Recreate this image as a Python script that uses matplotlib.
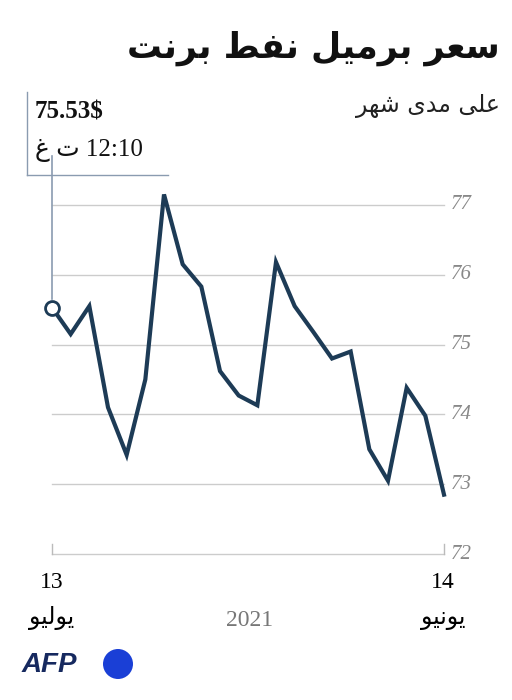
import matplotlib.pyplot as plt
from matplotlib.patches import Circle

# prices, left (13 July) to right (14 June)
prices = [75.53, 75.15, 75.55, 74.10, 73.42, 74.50, 77.15, 76.15, 75.83, 74.62, 74.27,
          74.13, 76.18, 75.55, 75.18, 74.80, 74.90, 73.50, 73.05, 74.38, 73.98, 72.85]
yticks = [72, 73, 74, 75, 76, 77]

# minimal arabic shaping (presentation forms B): iso, fin, ini, med
FORMS = {
    'ا': (0xFE8D, 0xFE8E, None, None), 'ب': (0xFE8F, 0xFE90, 0xFE91, 0xFE92),
    'ت': (0xFE95, 0xFE96, 0xFE97, 0xFE98), 'د': (0xFEA9, 0xFEAA, None, None),
    'ر': (0xFEAD, 0xFEAE, None, None), 'س': (0xFEB1, 0xFEB2, 0xFEB3, 0xFEB4),
    'ش': (0xFEB5, 0xFEB6, 0xFEB7, 0xFEB8), 'ط': (0xFEC1, 0xFEC2, 0xFEC3, 0xFEC4),
    'ع': (0xFEC9, 0xFECA, 0xFECB, 0xFECC), 'غ': (0xFECD, 0xFECE, 0xFECF, 0xFED0),
    'ف': (0xFED1, 0xFED2, 0xFED3, 0xFED4), 'ل': (0xFEDD, 0xFEDE, 0xFEDF, 0xFEE0),
    'م': (0xFEE1, 0xFEE2, 0xFEE3, 0xFEE4), 'ن': (0xFEE5, 0xFEE6, 0xFEE7, 0xFEE8),
    'ه': (0xFEE9, 0xFEEA, 0xFEEB, 0xFEEC), 'و': (0xFEED, 0xFEEE, None, None),
    'ى': (0xFEEF, 0xFEF0, None, None), 'ي': (0xFEF1, 0xFEF2, 0xFEF3, 0xFEF4),
}


def shape(text):
    out = []
    for i, c in enumerate(text):
        if c not in FORMS:
            out.append(c)
            continue
        p = text[i - 1] if i > 0 else ''
        n = text[i + 1] if i + 1 < len(text) else ''
        jp = p in FORMS and FORMS[p][2] is not None
        jn = n in FORMS and FORMS[c][2] is not None
        f = FORMS[c]
        code = f[3] if (jp and jn) else f[1] if jp else f[2] if jn else f[0]
        out.append(chr(code))
    return ''.join(out)[::-1]


navy = '#1d3b56'
gray = '#999999'
fig = plt.figure(figsize=(5.12, 7.0), dpi=100)

ax = fig.add_axes([52 / 512, 1 - 554 / 700, (444 - 52) / 512, (554 - 170) / 700])
x = list(range(len(prices)))
last = len(prices) - 1
for v in yticks:
    ax.plot([0, last], [v, v], color='#cccccc', lw=1, zorder=1, clip_on=False)
    ax.text(last + 0.35, v, str(v), ha='left', va='center', fontsize=15,
            family='Liberation Serif', style='italic', color='#888888')
ax.plot([last, last], [72, 72.15], color='#bbbbbb', lw=1, clip_on=False)
ax.plot([0, 0], [72, 72.15], color='#bbbbbb', lw=1, clip_on=False)
ax.plot(x, prices, color=navy, lw=3, solid_joinstyle='miter', zorder=3, clip_on=False)
ax.plot(x[0], prices[0], 'o', ms=10, mfc='white', mec=navy, mew=2, zorder=4, clip_on=False)
ax.set_xlim(0, last)
ax.set_ylim(72, 77.5)
ax.axis('off')

# callout
ax.plot([0, 0], [prices[0] + 0.12, 77.7], color='#8a9bb0', lw=1.2, clip_on=False)
fig.add_artist(plt.Line2D([27 / 512, 168 / 512], [1 - 175 / 700] * 2, color='#8a9bb0', lw=1))
fig.add_artist(plt.Line2D([27 / 512] * 2, [1 - 175 / 700, 1 - 92 / 700], color='#8a9bb0', lw=1))
fig.text(35 / 512, 1 - 112 / 700, '75.53$', fontsize=18, weight='bold',
         family='Liberation Serif', color='#111111', va='center')
fig.text(35 / 512, 1 - 150 / 700, shape('غ') + ' ' + shape('ت') + ' 12:10', fontsize=18,
         family=['Liberation Serif', 'DejaVu Sans'], color='#111111', va='center')

# titles
fig.text(500 / 512, 1 - 48 / 700, shape('سعر برميل نفط برنت'), fontsize=25, weight='bold',
         ha='right', va='center', color='#111111')
fig.text(500 / 512, 1 - 106 / 700, shape('على مدى شهر'), fontsize=17,
         ha='right', va='center', color='#222222')

# x labels
fig.text(52 / 512, 1 - 582 / 700, '13', fontsize=17, family='Liberation Serif', ha='center', va='center')
fig.text(443 / 512, 1 - 582 / 700, '14', fontsize=17, family='Liberation Serif', ha='center', va='center')
fig.text(52 / 512, 1 - 618 / 700, shape('يوليو'), fontsize=17, ha='center', va='center')
fig.text(443 / 512, 1 - 618 / 700, shape('يونيو'), fontsize=17, ha='center', va='center')
fig.text(250 / 512, 1 - 620 / 700, '2021', fontsize=17, family='Liberation Serif',
         ha='center', va='center', color='#777777')

# AFP logo
fig.text(22 / 512, 1 - 665 / 700, 'AFP', fontsize=20, weight='bold', color='#16295f',
         va='center', family='Liberation Sans', style='italic')
fig.add_artist(Circle((1.18, 0.36), 0.15, transform=fig.dpi_scale_trans,
                      color='#1a3fd6', ec='none'))

fig.savefig('out.png', dpi=100)
